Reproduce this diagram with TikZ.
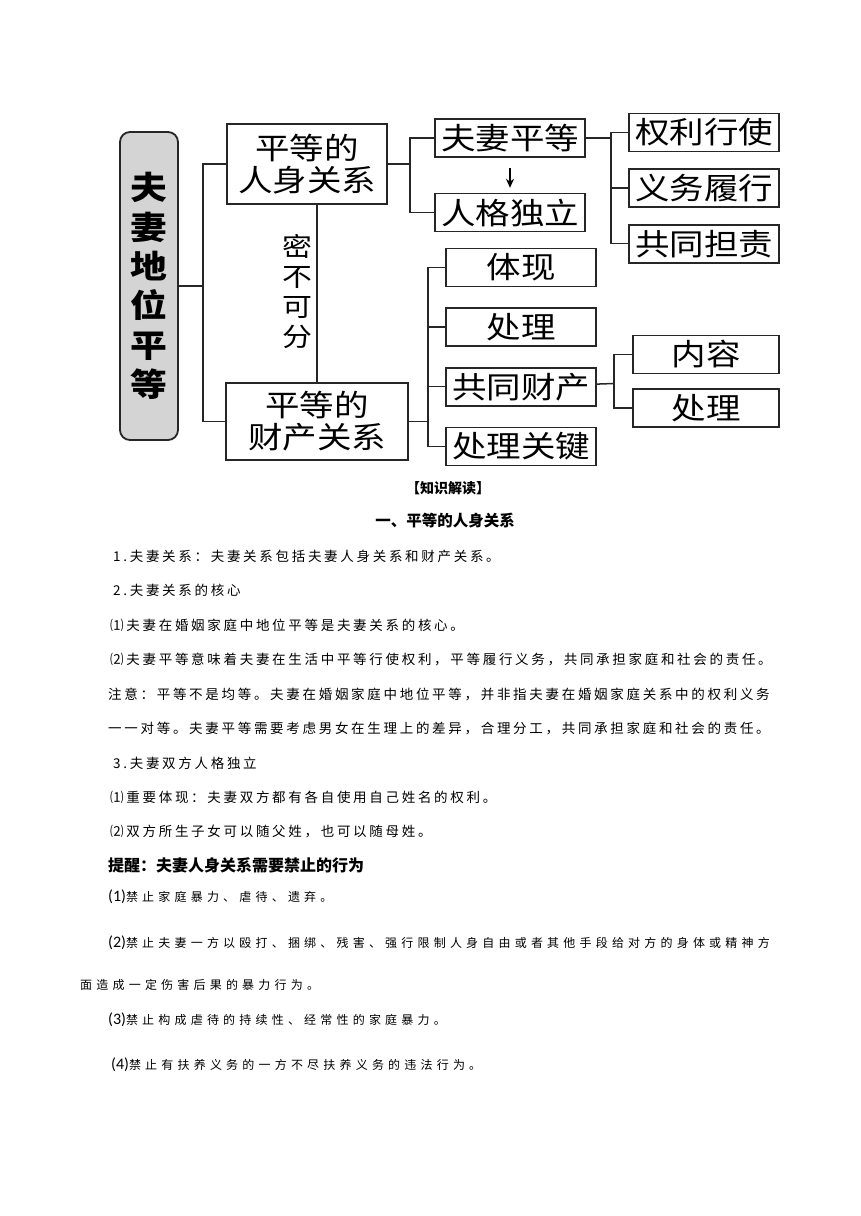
\documentclass[tikz,border=0pt]{standalone}
\usepackage{fontspec}
\setmainfont{Noto Sans CJK SC}
\newfontfamily\boxfont[FakeStretch=1.15]{Noto Sans CJK SC}
\newfontfamily\rootfont[FakeStretch=1.15]{Noto Sans CJK SC}
\newfontfamily\bodyfont[LetterSpace=20]{Noto Sans CJK SC}
\newfontfamily\listfont[LetterSpace=35]{Noto Sans CJK SC}
\newfontfamily\titlefont{Noto Sans CJK SC}
\newfontfamily\numfont{Carlito}
\usetikzlibrary{arrows.meta,positioning}
\tikzset{
  box/.style={rectangle, draw=black!85, line width=1.6pt, align=center,
              font=\boxfont\fontsize{30}{32}\selectfont,
              minimum width=150pt, minimum height=38pt, inner sep=0pt},
  bigbox/.style={box, minimum height=80pt},
  rootbox/.style={rectangle, rounded corners=10pt, draw=black!85, line width=1.8pt,
                  fill=black!17, align=center, inner sep=0pt,
                  font=\rootfont\bfseries\fontsize{32}{39.4}\selectfont,
                  minimum width=58pt, minimum height=308pt},
  lbl/.style={align=center, inner sep=0pt, font=\boxfont\fontsize{26}{30}\selectfont},
  link/.style={line width=1.5pt, draw=black!85},
  arrow/.style={-{Stealth[length=9pt,width=8pt]}, line width=1.4pt},
  title/.style={inner sep=0pt, font=\titlefont\bfseries\fontsize{14}{16}\selectfont},
  para/.style={anchor=west, inner sep=0pt, font=\bodyfont\fontsize{13.5}{16}\selectfont},
  warn/.style={anchor=west, inner sep=0pt, font=\listfont\fontsize{12}{14}\selectfont}
}
\newcommand{\num}[1]{{\numfont\fontsize{16}{18}\selectfont(#1)}}

\begin{document}
\begin{tikzpicture}[x=1pt, y=-1pt, node distance=16pt]
  \path[use as bounding box, fill=white] (0,0) rectangle (860,1216);
  % tree
  \node[rootbox] (root) at (149,286) {夫\\妻\\地\\位\\平\\等};
  \node[bigbox, minimum width=160pt] (person) at (307,164) {平等的\\人身关系};
  \node[bigbox, minimum width=182pt, minimum height=77pt] (property) at (317,421.5) {平等的\\财产关系};
  \node[lbl] (bond) at (297,292) {密\\不\\可\\分};
  \node[box] (equal) at (510,138) {夫妻平等};
  \node[box, below=35pt of equal] (indep) {人格独立};
  \node[box] (exercise) at (704,132.5) {权利行使};
  \node[box, below=of exercise] (duty) {义务履行};
  \node[box, below=of duty] (share) {共同担责};
  \node[box] (embody) at (521,267.5) {体现};
  \node[box, below=20pt of embody] (handle) {处理};
  \node[box, below=20pt of handle] (common) {共同财产};
  \node[box, below=20pt of common] (key) {处理关键};
  \node[box, minimum width=146pt] (content) at (706,354.5) {内容};
  \node[box, minimum width=146pt, below=14pt of content] (dispose) {处理};

  \coordinate (j1) at (203,286);
  \coordinate (j2) at (410,164);
  \coordinate (j3) at (611,138);
  \coordinate (j4) at (428,421.5);
  \coordinate (j5) at (614,383.5);
  \draw[link] (root) -- (j1);
  \draw[link] (person.west) -| (j1) |- (property.west);
  \draw[link] (person.south -| property.north) -- (property.north);
  \draw[link] (person) -- (j2);
  \draw[link] (equal.west) -| (j2) |- (indep.west);
  \draw[arrow, shorten <=10pt, shorten >=5pt] (equal) -- (indep);
  \draw[link] (equal) -- (j3);
  \draw[link] (exercise.west) -| (j3) |- (share.west);
  \draw[link] (duty.west) -- (duty.west -| j3);
  \draw[link] (property) -- (j4);
  \draw[link] (embody.west) -| (j4) |- (key.west);
  \draw[link] (handle.west) -- (handle.west -| j4);
  \draw[link] (common.west) -- (common.west -| j4);
  \draw[link] (common) -- (j5);
  \draw[link] (content.west) -| (j5) |- (dispose.west);

  % text
  \node[title] (reading) at (448,488) {【知识解读】};
  \node[title, font=\titlefont\bfseries\fontsize{15.5}{17}\selectfont] (sec) at (445,521) {一、平等的人身关系};
  \node[para] (p1) at (113,556) {1.夫妻关系：夫妻关系包括夫妻人身关系和财产关系。};
  \node[para] (p2) at (113,590) {2.夫妻关系的核心};
  \node[para] (p3) at (110,625) {⑴夫妻在婚姻家庭中地位平等是夫妻关系的核心。};
  \node[para] (p4) at (110,659) {⑵夫妻平等意味着夫妻在生活中平等行使权利，平等履行义务，共同承担家庭和社会的责任。};
  \node[para] (p5) at (108,694) {注意：平等不是均等。夫妻在婚姻家庭中地位平等，并非指夫妻在婚姻家庭关系中的权利义务};
  \node[para] (p6) at (108,728) {一一对等。夫妻平等需要考虑男女在生理上的差异，合理分工，共同承担家庭和社会的责任。};
  \node[para] (p7) at (113,763) {3.夫妻双方人格独立};
  \node[para] (p8) at (110,797) {⑴重要体现：夫妻双方都有各自使用自己姓名的权利。};
  \node[para] (p9) at (110,831) {⑵双方所生子女可以随父姓，也可以随母姓。};
  \node[title, anchor=west, font=\titlefont\bfseries\fontsize{16}{18}\selectfont] (remind) at (108,865) {提醒：夫妻人身关系需要禁止的行为};
  \node[warn] (w1) at (108,897) {\num{1}禁止家庭暴力、虐待、遗弃。};
  \node[warn] (w2) at (108,943) {\num{2}禁止夫妻一方以殴打、捆绑、残害、强行限制人身自由或者其他手段给对方的身体或精神方};
  \node[warn] (w2b) at (80,985) {面造成一定伤害后果的暴力行为。};
  \node[warn] (w3) at (108,1020) {\num{3}禁止构成虐待的持续性、经常性的家庭暴力。};
  \node[warn] (w4) at (111,1065) {\num{4}禁止有扶养义务的一方不尽扶养义务的违法行为。};
\end{tikzpicture}
\end{document}
